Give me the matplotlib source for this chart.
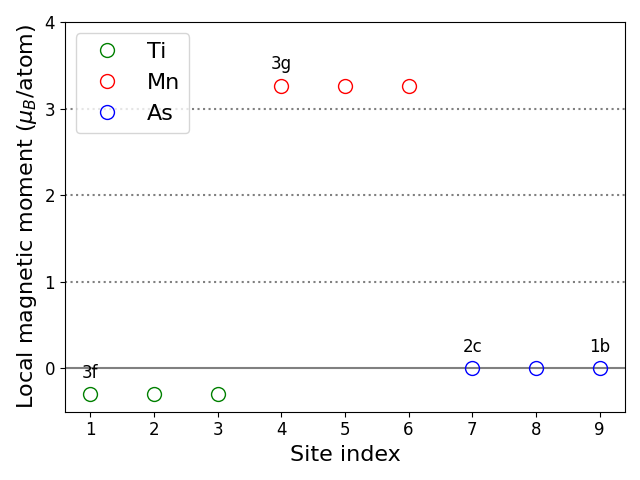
import matplotlib
matplotlib.use('Agg')
import matplotlib.pyplot as plt

# 数据
ti_sites = [1, 2, 3]
ti_moments = [-0.30, -0.30, -0.30]
mn_sites = [4, 5, 6]
mn_moments = [3.26, 3.26, 3.26]
as_sites = [7, 8, 9]
as_moments = [0.0, 0.0, 0.0]

# Wyckoff 标注
wyckoff_labels = ['3f', '3g', '2c', '1b']
wyckoff_sites = [1, 4, 7, 9]
wyckoff_moments = [-0.30, 3.26, 0.0, 0.0]

fig, ax = plt.subplots(figsize=(6.4, 4.8))

for y in [1, 2, 3]:
    ax.axhline(y, color='gray', linestyle=':', linewidth=1.5)
ax.axhline(0, color='gray', linestyle='-', linewidth=1.5)

ax.plot(ti_sites, ti_moments, 'o', mfc='none', mec='green', ms=10, label='Ti')
ax.plot(mn_sites, mn_moments, 'o', mfc='none', mec='red', ms=10, label='Mn')
ax.plot(as_sites, as_moments, 'o', mfc='none', mec='blue', ms=10, label='As')

for lab, x, y in zip(wyckoff_labels, wyckoff_sites, wyckoff_moments):
    ax.text(x, y + 0.25, lab, ha='center', va='center', fontsize=12)

ax.set_ylim(-0.5, 4)
ax.set_xticks(range(1, 10))
ax.set_yticks([0, 1, 2, 3, 4])
ax.tick_params(labelsize=12)
ax.set_xlabel('Site index', fontsize=16)
ax.set_ylabel(r'Local magnetic moment ($\mu_B$/atom)', fontsize=16)
ax.legend(loc='upper left', fontsize=16)

plt.tight_layout()
plt.savefig('out.png', dpi=100)
